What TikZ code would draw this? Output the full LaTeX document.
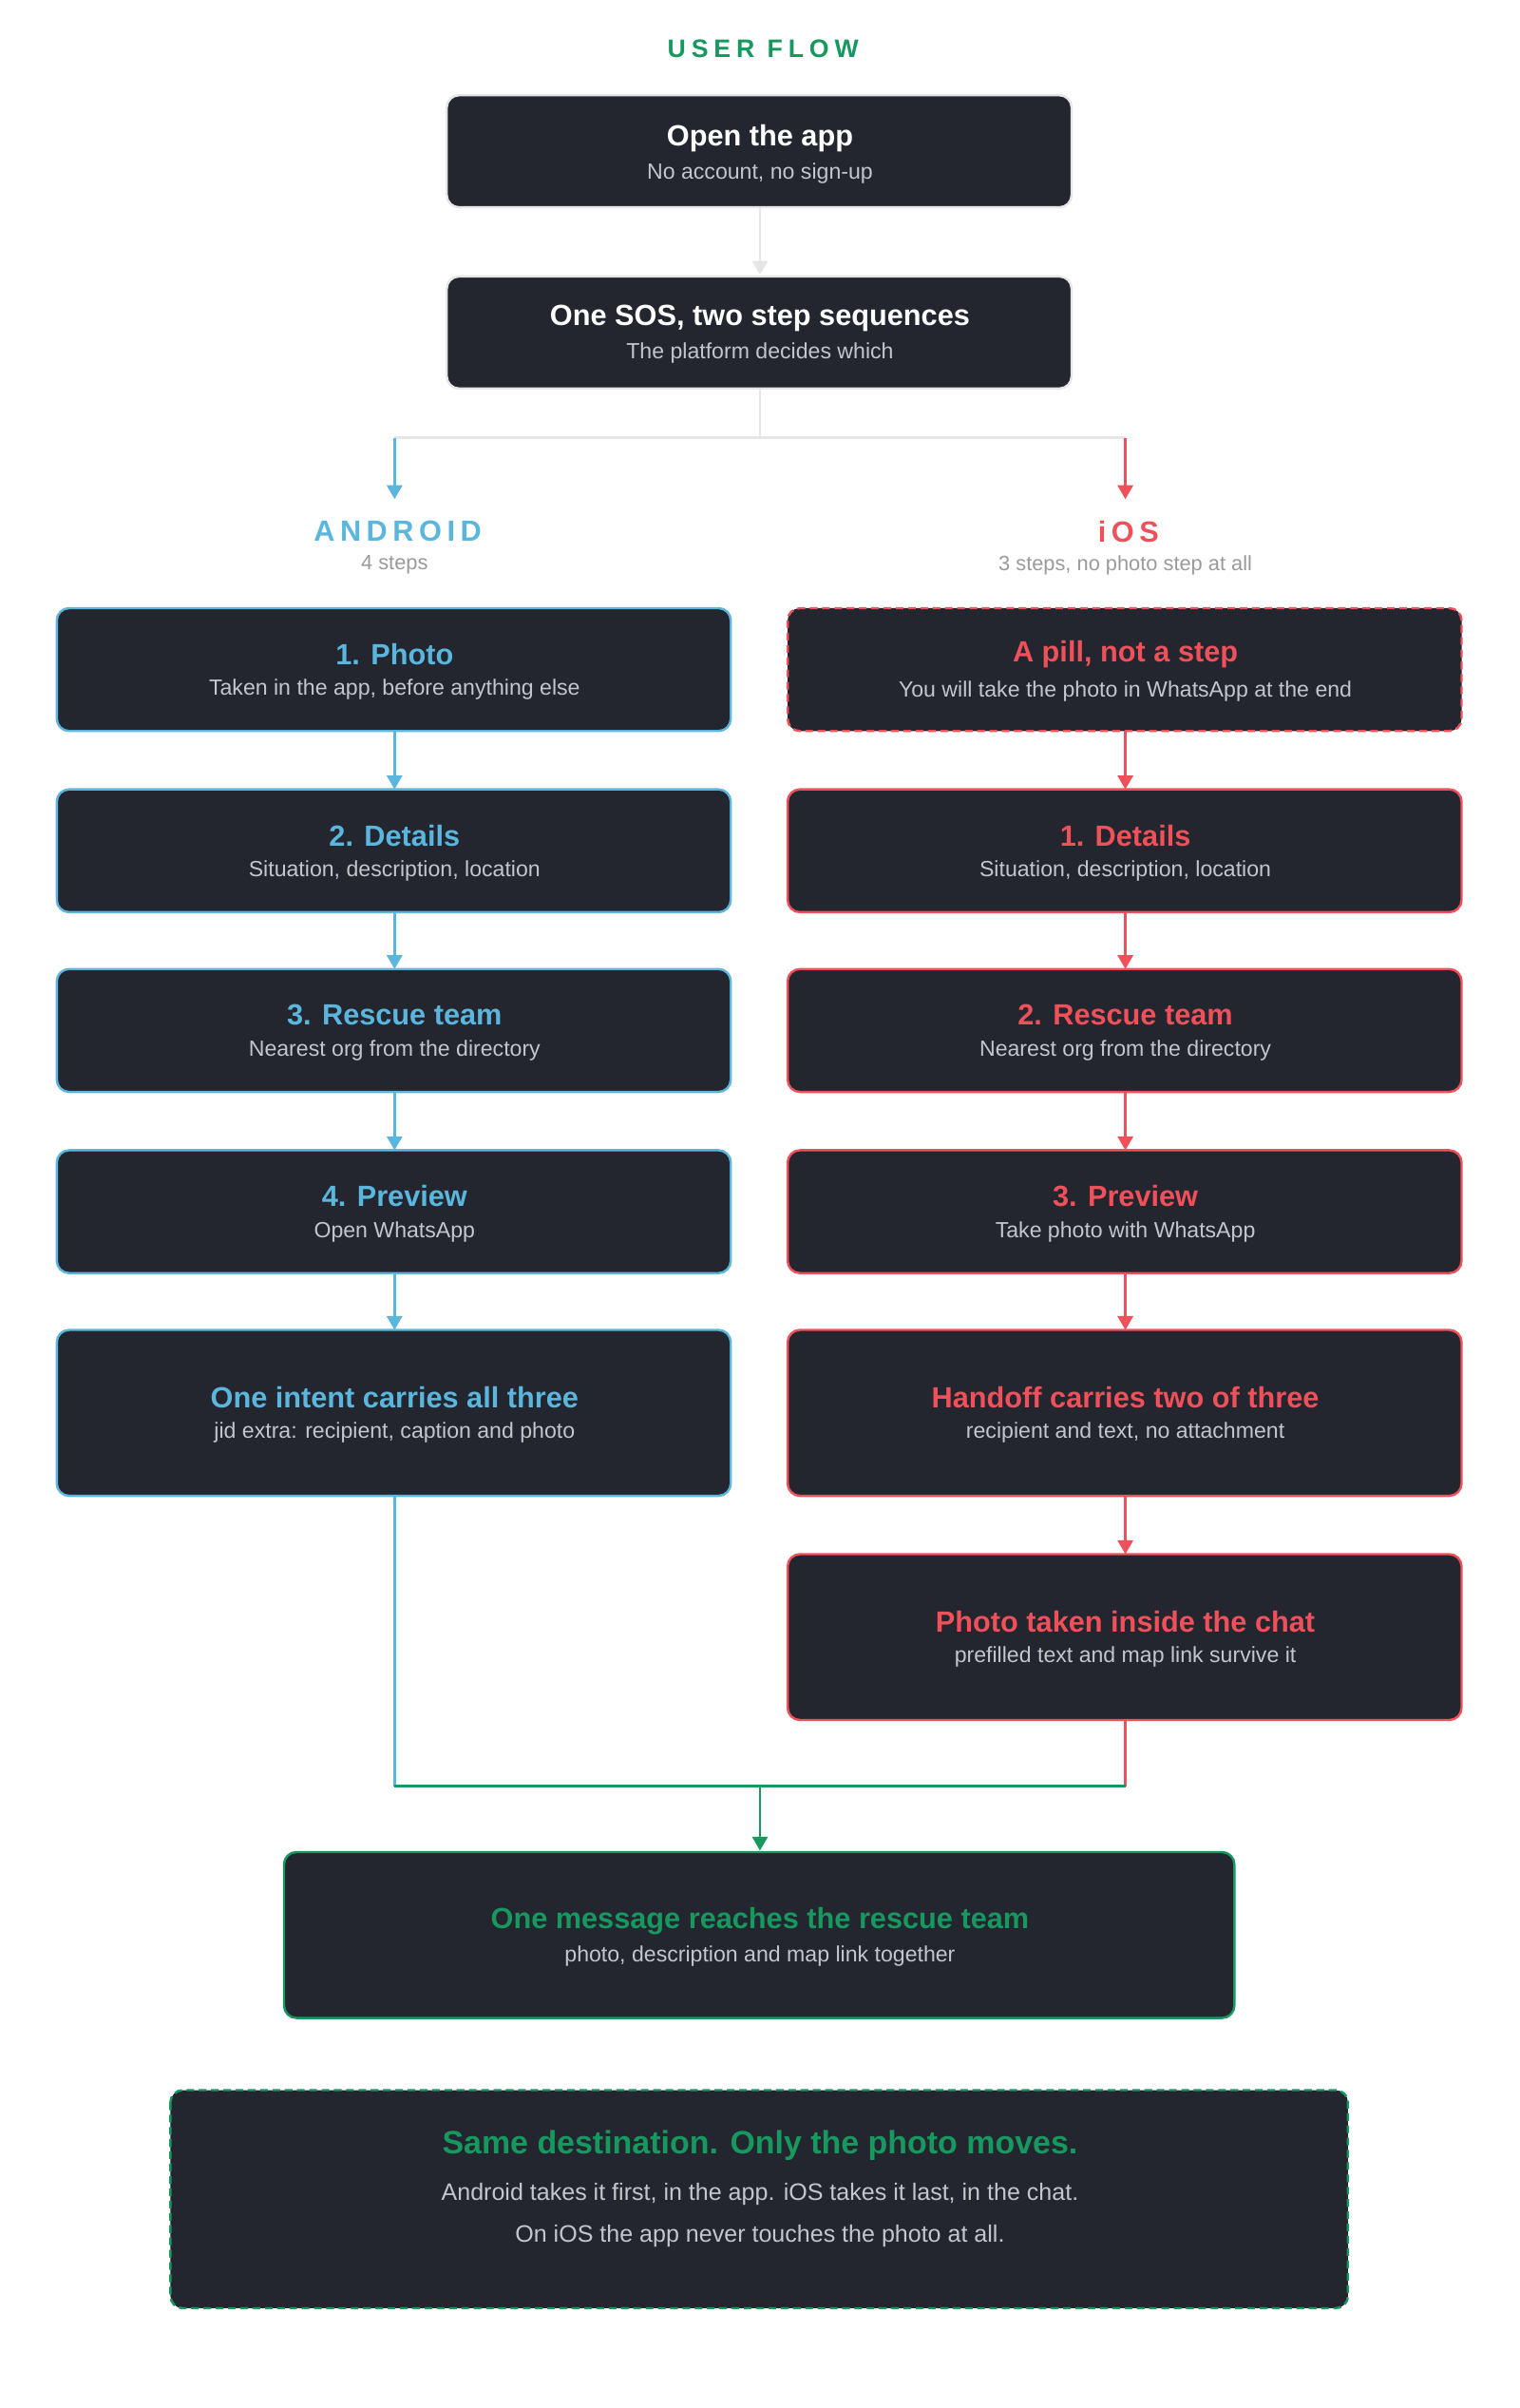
\documentclass[tikz,border=0pt]{standalone}
\usepackage{fontspec}
\setmainfont{Liberation Sans}
\usetikzlibrary{arrows.meta}
\definecolor{bx}{HTML}{23252F}
\definecolor{cb}{HTML}{5BB6DD}
\definecolor{cr}{HTML}{EF5059}
\definecolor{cg}{HTML}{17985F}
\definecolor{sub}{HTML}{C4C6CC}
\definecolor{lg}{HTML}{E6E6E6}
\definecolor{mg}{HTML}{9A9A9A}
\begin{document}
\begin{tikzpicture}[x=1pt,y=-1pt,
 box/.style={draw=#1,fill=bx,rounded corners=8pt,line width=1.5pt},
 ttl/.style={font=\fontsize{19}{21}\selectfont\bfseries,text=#1},
 st/.style={font=\fontsize{14.3}{16}\selectfont,text=sub},
 arr/.style={draw=#1,line width=1.5pt,-{Triangle[length=9pt,width=10pt]}},
 ln/.style={draw=#1,line width=1.5pt}]
\useasboundingbox (0,0) rectangle (990,1568);
\node[font=\fontsize{16.5}{18}\selectfont\bfseries\addfontfeature{LetterSpace=22},text=cg] (h) at (497,32) {USER FLOW};
% top
\draw[box=lg] (291,62) rectangle (698,135); \coordinate (b1t) at (495,62); \coordinate (b1b) at (495,135);
\node[ttl=white] (t1) at (495,90) {Open the app};
\node[st] (s1) at (495,113) {No account, no sign-up};
\draw[box=lg] (291,180) rectangle (698,253); \coordinate (b2t) at (495,179); \coordinate (b2b) at (495,253);
\node[ttl=white] (t2) at (495,207) {One SOS, two step sequences};
\node[st] (s2) at (495,230) {The platform decides which};
\draw[arr=lg] (b1b) -- (b2t);
\coordinate (j) at (495,285); \coordinate (jl) at (257,285); \coordinate (jr) at (733,285);
\coordinate (al) at (257,325); \coordinate (ar) at (733,325);
\draw[ln=lg] (b2b) -- (j); \draw[ln=lg] (jl) -- (jr);
\draw[arr=cb] (jl) -- (al); \draw[arr=cr] (jr) -- (ar);
\node[font=\fontsize{19}{20}\selectfont\bfseries\addfontfeature{LetterSpace=18},text=cb] (and) at (259,346) {ANDROID};
\node[font=\fontsize{13.5}{15}\selectfont,text=mg] (and2) at (257,368) {4 steps};
\node[font=\fontsize{19}{20}\selectfont\bfseries\addfontfeature{LetterSpace=18},text=cr] (ios) at (735,346) {iOS};
\node[font=\fontsize{13.5}{15}\selectfont,text=mg] (ios2) at (733,368) {3 steps, no photo step at all};
% android
\foreach \i/\a/\b/\t/\s in {1/396/476/1. Photo/{Taken in the app, before anything else},
 2/514/594/2. Details/{Situation, description, location},
 3/631/711/3. Rescue team/{Nearest org from the directory},
 4/749/829/4. Preview/{Open WhatsApp},
 5/866/974/One intent carries all three/{jid extra: recipient, caption and photo}}{
 \draw[box=cb] (37,\a) rectangle (476,\b);
 \coordinate (L\i t) at (257,\a); \coordinate (L\i b) at (257,\b);
 \node[ttl=cb] (Lt\i) at (257,{(\a+\b)/2-10}) {\t};
 \node[st] (Ls\i) at (257,{(\a+\b)/2+13}) {\s};
}
\foreach \i/\a/\b/\t/\s in {2/514/594/1. Details/{Situation, description, location},
 3/631/711/2. Rescue team/{Nearest org from the directory},
 4/749/829/3. Preview/{Take photo with WhatsApp},
 5/866/974/Handoff carries two of three/{recipient and text, no attachment},
 6/1012/1120/Photo taken inside the chat/{prefilled text and map link survive it}}{
 \draw[box=cr] (513,\a) rectangle (952,\b);
 \coordinate (R\i t) at (733,\a); \coordinate (R\i b) at (733,\b);
 \node[ttl=cr] (Rt\i) at (733,{(\a+\b)/2-10}) {\t};
 \node[st] (Rs\i) at (733,{(\a+\b)/2+13}) {\s};
}
\draw[box=cr,dashed,dash pattern=on 5pt off 3pt] (513,396) rectangle (952,476);
\coordinate (R1t) at (733,396); \coordinate (R1b) at (733,476);
\node[ttl=cr] (Rt1) at (733,426) {A pill, not a step};
\node[st] (Rs1) at (733,450) {You will take the photo in WhatsApp at the end};
\foreach \i/\j in {1/2,2/3,3/4,4/5}{\draw[arr=cb] (L\i b) -- (L\j t);}
\foreach \i/\j in {1/2,2/3,3/4,4/5,5/6}{\draw[arr=cr] (R\i b) -- (R\j t);}
% merge
\coordinate (ml) at (257,1163); \coordinate (mr) at (733,1163); \coordinate (mm) at (495,1163);
\coordinate (gt) at (495,1205);
\draw[ln=cb] (L5b) -- (ml); \draw[ln=cr] (R6b) -- (mr);
\draw[ln=cg] (ml) -- (mr); \draw[arr=cg] (mm) -- (gt);
\draw[box=cg] (185,1206) rectangle (804,1314);
\node[ttl=cg] (gt1) at (495,1251) {One message reaches the rescue team};
\node[st] (gs1) at (495,1274) {photo, description and map link together};
\draw[box=cg,dashed,dash pattern=on 5pt off 3pt] (111,1361) rectangle (878,1503);
\node[font=\fontsize{21}{22}\selectfont\bfseries,text=cg] (ft) at (495,1397) {Same destination. Only the photo moves.};
\node[font=\fontsize{15.5}{17}\selectfont,text=sub] (f1) at (495,1429) {Android takes it first, in the app. iOS takes it last, in the chat.};
\node[font=\fontsize{15.5}{17}\selectfont,text=sub] (f2) at (495,1456) {On iOS the app never touches the photo at all.};
\end{tikzpicture}
\end{document}
